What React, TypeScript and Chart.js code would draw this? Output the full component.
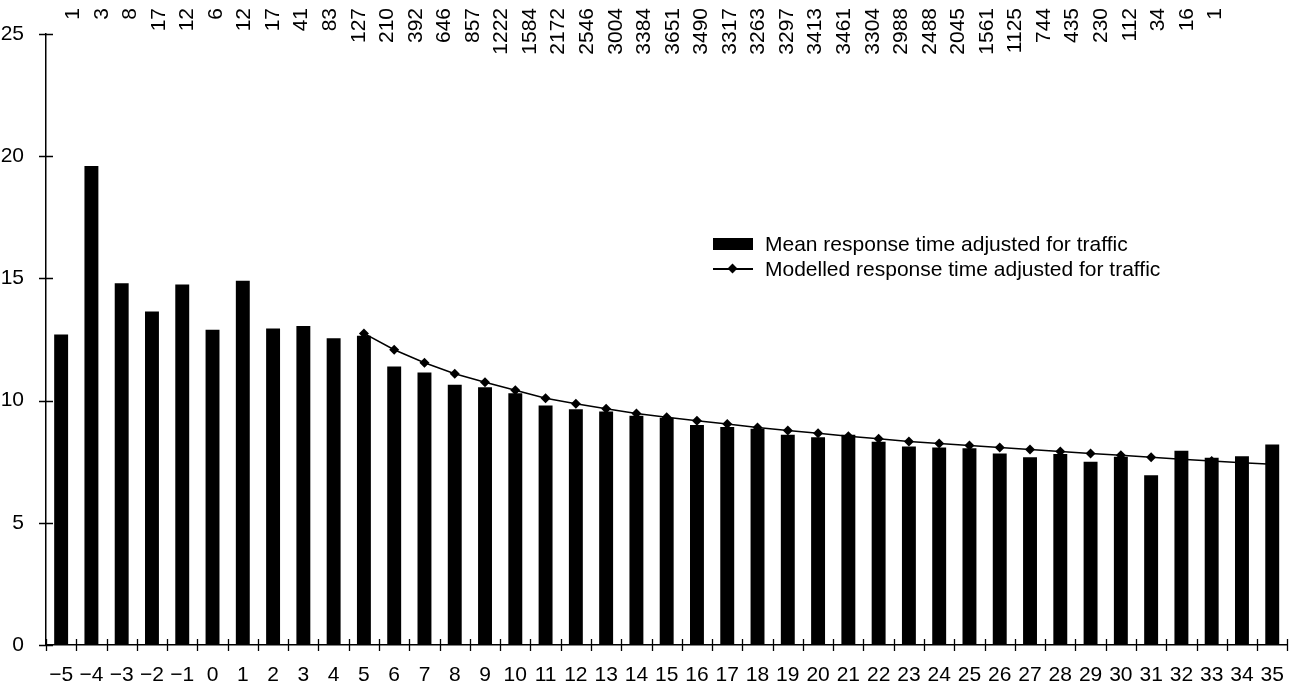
import React, { useEffect, useRef, useState } from 'react';
import { Chart, registerables } from 'chart.js';

Chart.register(...registerables);

const FONT = '"Liberation Sans", Arial, Helvetica, sans-serif';

const categories = [
  '−5', '−4', '−3', '−2', '−1', '0', '1', '2', '3', '4', '5', '6', '7', '8', '9', '10',
  '11', '12', '13', '14', '15', '16', '17', '18', '19', '20', '21', '22', '23', '24', '25',
  '26', '27', '28', '29', '30', '31', '32', '33', '34', '35',
];

const meanResponse = [
  12.7, 19.6, 14.8, 13.65, 14.75, 12.9, 14.9, 12.95, 13.05, 12.55, 12.65, 11.4, 11.15,
  10.65, 10.55, 10.3, 9.8, 9.65, 9.55, 9.38, 9.3, 9.0, 8.92, 8.85, 8.6, 8.5, 8.6, 8.32,
  8.12, 8.08, 8.05, 7.84, 7.68, 7.82, 7.5, 7.7, 6.95, 7.95, 7.66, 7.72, 8.2,
];

const modelledResponse = [
  null, null, null, null, null, null, null, null, null, null,
  12.75, 12.08, 11.55, 11.1, 10.75, 10.42, 10.1, 9.87, 9.67, 9.47, 9.32, 9.18, 9.04, 8.9,
  8.78, 8.66, 8.54, 8.44, 8.33, 8.24, 8.16, 8.08, 8.0, 7.92, 7.84, 7.76, 7.68, 7.6, 7.53,
  7.46, 7.4,
];

const sampleCounts = [
  1, 3, 8, 17, 12, 6, 12, 17, 41, 83, 127, 210, 392, 646, 857, 1222, 1584, 2172, 2546,
  3004, 3384, 3651, 3490, 3317, 3263, 3297, 3413, 3461, 3304, 2988, 2488, 2045, 1561,
  1125, 744, 435, 230, 112, 34, 16, 1,
];

const yTicks = [0, 5, 10, 15, 20, 25];

const crossTicks = {
  id: 'crossTicks',
  afterDraw(chart: any) {
    const ctx = chart.ctx;
    const xs = chart.scales.x;
    const ys = chart.scales.y;
    const { left, bottom } = chart.chartArea;
    ctx.save();
    ctx.strokeStyle = '#000';
    ctx.lineWidth = 1.3;
    ctx.beginPath();
    yTicks.forEach((v) => {
      const py = Math.round(ys.getPixelForValue(v)) + 0.5;
      ctx.moveTo(left - 7, py);
      ctx.lineTo(left + 7, py);
    });
    const step = xs.getPixelForValue(1) - xs.getPixelForValue(0);
    for (let i = 0; i <= categories.length; i++) {
      const px = Math.round(xs.getPixelForValue(i) - step / 2) + 0.5;
      ctx.moveTo(px, bottom - 6);
      ctx.lineTo(px, bottom + 6);
    }
    ctx.stroke();
    ctx.restore();
  },
};

export default function App() {
  const canvasRef = useRef<HTMLCanvasElement | null>(null);
  const [countPos, setCountPos] = useState<number[]>([]);

  useEffect(() => {
    if (!canvasRef.current) return;
    const chart = new Chart(canvasRef.current, {
      type: 'bar',
      data: {
        labels: categories,
        datasets: [
          {
            type: 'line',
            label: 'Modelled response time adjusted for traffic',
            data: modelledResponse as any,
            borderColor: '#000',
            backgroundColor: '#000',
            borderWidth: 1.5,
            pointStyle: 'rectRot',
            pointRadius: 5,
            pointBackgroundColor: '#000',
            pointBorderColor: '#000',
            pointBorderWidth: 0,
            tension: 0,
            order: 0,
          } as any,
          {
            type: 'bar',
            label: 'Mean response time adjusted for traffic',
            data: meanResponse,
            backgroundColor: '#000',
            borderWidth: 0,
            barPercentage: 0.46,
            categoryPercentage: 1,
            order: 1,
          },
        ],
      },
      options: {
        animation: false,
        responsive: true,
        maintainAspectRatio: false,
        layout: { padding: { top: 34, right: 6, left: 0, bottom: 0 } },
        plugins: {
          legend: { display: false },
          tooltip: { enabled: false },
        },
        scales: {
          x: {
            type: 'category',
            grid: { display: false },
            border: { display: true, color: '#000', width: 1.5 },
            ticks: {
              color: '#000',
              font: { family: FONT, size: 21 },
              padding: 10,
              autoSkip: false,
              maxRotation: 0,
              minRotation: 0,
            },
            afterFit: (s: any) => {
              s.height = 45;
            },
          },
          x2: {
            type: 'linear',
            position: 'top',
            display: true,
            offset: false,
            bounds: 'data',
            min: -0.91,
            max: 42.56,
            grid: { display: false, offset: false },
            border: { display: false },
            ticks: { display: false },
            afterFit: (s: any) => {
              s.height = 0;
            },
          },
          y: {
            min: 0,
            max: 25,
            grid: { display: false },
            border: { display: true, color: '#000', width: 1.5 },
            ticks: {
              stepSize: 5,
              color: '#000',
              font: { family: FONT, size: 21 },
              padding: 14,
            },
            afterFit: (s: any) => {
              s.width = 46;
            },
          },
        },
      },
      plugins: [crossTicks],
    });
    const x2: any = chart.scales.x2;
    setCountPos(sampleCounts.map((_, i) => x2.getPixelForValue(i)));
    return () => chart.destroy();
  }, []);

  const legendText: React.CSSProperties = {
    position: 'absolute',
    font: `21px ${FONT}`,
    color: '#000',
    whiteSpace: 'nowrap',
    lineHeight: '24px',
  };

  return (
    <div style={{ position: 'fixed', left: 0, top: 0, width: 1294, height: 690, background: '#fff' }}>
      <canvas ref={canvasRef} />
      {countPos.map((px, i) => (
        <div
          key={i}
          style={{
            position: 'absolute',
            left: px,
            top: 8,
            transform: 'translateX(-50%) rotate(180deg)',
            writingMode: 'vertical-rl',
            font: `21px ${FONT}`,
            lineHeight: '22px',
            color: '#000',
            whiteSpace: 'nowrap',
          }}
        >
          {String(sampleCounts[i])}
        </div>
      ))}
      <div style={{ position: 'absolute', left: 713, top: 238, width: 40, height: 12, background: '#000' }} />
      <div style={{ ...legendText, left: 765, top: 232 }}>Mean response time adjusted for traffic</div>
      <div style={{ position: 'absolute', left: 713, top: 268, width: 40, height: 1.5, background: '#000' }} />
      <div
        style={{
          position: 'absolute',
          left: 728.5,
          top: 265,
          width: 7,
          height: 7,
          background: '#000',
          transform: 'rotate(45deg)',
        }}
      />
      <div style={{ ...legendText, left: 765, top: 257 }}>Modelled response time adjusted for traffic</div>
    </div>
  );
}
